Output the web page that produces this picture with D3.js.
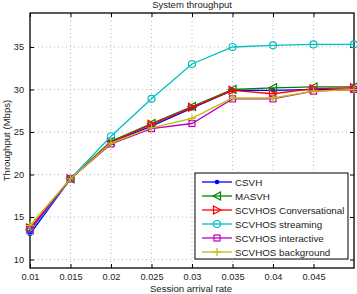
<!DOCTYPE html>
<html>
<head>
<meta charset="utf-8">
<script src="https://cdn.jsdelivr.net/npm/d3@7"></script>
<style>
  body { margin: 0; background: #fff; }
  text { font-family: "Liberation Sans", Arial, sans-serif; }
</style>
</head>
<body>
<div id="chart"></div>
<script>
const arrivalRates = [0.01, 0.015, 0.02, 0.025, 0.03, 0.035, 0.04, 0.045, 0.05];
const xTicks = [0.01, 0.015, 0.02, 0.025, 0.03, 0.035, 0.04, 0.045];
const yTicks = [10, 15, 20, 25, 30, 35];

const csvh = [13.0, 19.5, 23.8, 25.7, 27.8, 29.9, 29.9, 30.0, 30.0];
const masvh = [13.5, 19.5, 23.9, 26.0, 28.0, 30.0, 30.2, 30.3, 30.3];
const conversational = [13.7, 19.5, 23.8, 25.9, 27.9, 29.9, 29.5, 30.1, 30.2];
const streaming = [13.3, 19.5, 24.5, 28.9, 33.0, 35.0, 35.2, 35.3, 35.3];
const interactive = [13.5, 19.5, 23.6, 25.4, 26.0, 28.9, 28.9, 29.8, 30.0];
const background = [14.0, 19.5, 23.7, 25.5, 26.6, 29.0, 29.0, 29.8, 30.0];

const seriesNames = ['CSVH', 'MASVH', 'SCVHOS Conversational', 'SCVHOS streaming', 'SCVHOS interactive', 'SCVHOS background'];
const seriesValues = [csvh, masvh, conversational, streaming, interactive, background];
const seriesColors = ['#0000ff', '#008000', '#ff0000', '#00bfbf', '#bf00bf', '#bfbf00'];
const seriesMarkers = ['dot', 'tleft', 'tright', 'circle', 'square', 'plus'];

const W = 357, H = 294;
const margin = { top: 13, right: 3, bottom: 26, left: 30 };
const width = W - margin.left - margin.right;
const height = H - margin.top - margin.bottom;

const svg = d3.select('#chart').append('svg')
  .attr('width', W).attr('height', H);
const g = svg.append('g')
  .attr('transform', 'translate(' + margin.left + ',' + margin.top + ')');

const x = d3.scaleLinear().domain([0.01, 0.05]).range([0, width]);
const y = d3.scaleLinear().domain([9, 39]).range([height, 0]);

// grid
g.append('g').selectAll('line').data(xTicks.slice(1)).join('line')
  .attr('x1', d => x(d)).attr('x2', d => x(d))
  .attr('y1', 0).attr('y2', height)
  .attr('stroke', '#999').attr('stroke-width', 0.7).attr('stroke-dasharray', '1,3');
g.append('g').selectAll('line').data(yTicks).join('line')
  .attr('x1', 0).attr('x2', width)
  .attr('y1', d => y(d)).attr('y2', d => y(d))
  .attr('stroke', '#999').attr('stroke-width', 0.7).attr('stroke-dasharray', '1,3');

// axes with inward ticks
const xAxis = g.append('g').attr('transform', 'translate(0,' + height + ')')
  .call(d3.axisBottom(x).tickValues(xTicks).tickSize(-4).tickPadding(5).tickFormat(d3.format('')));
const xAxisTop = g.append('g')
  .call(d3.axisTop(x).tickValues(xTicks).tickSize(-4).tickFormat(''));
const yAxis = g.append('g')
  .call(d3.axisLeft(y).tickValues(yTicks).tickSize(-4).tickPadding(6));
const yAxisRight = g.append('g').attr('transform', 'translate(' + width + ',0)')
  .call(d3.axisRight(y).tickValues(yTicks).tickSize(-4).tickFormat(''));
[xAxis, xAxisTop, yAxis, yAxisRight].forEach(a => {
  a.select('.domain').remove();
  a.selectAll('text').attr('font-size', 9.2).attr('fill', '#222')
    .attr('font-family', '"Liberation Sans", Arial, sans-serif');
  a.selectAll('line').attr('stroke', '#000');
});

g.append('rect').attr('width', width).attr('height', height)
  .attr('fill', 'none').attr('stroke', '#000').attr('stroke-width', 1.3);

// lines + markers
const line = d3.line().x((d, i) => x(arrivalRates[i])).y(d => y(d));

function drawMarker(sel, type, color, cx, cy) {
  if (type === 'dot') {
    sel.append('circle').attr('cx', cx).attr('cy', cy).attr('r', 2.3).attr('fill', color);
  } else if (type === 'circle') {
    sel.append('circle').attr('cx', cx).attr('cy', cy).attr('r', 3.5)
      .attr('fill', 'none').attr('stroke', color).attr('stroke-width', 1.2);
  } else if (type === 'square') {
    sel.append('rect').attr('x', cx - 3).attr('y', cy - 3).attr('width', 6).attr('height', 6)
      .attr('fill', 'none').attr('stroke', color).attr('stroke-width', 1.2);
  } else if (type === 'tleft') {
    sel.append('path').attr('d', `M${cx - 4},${cy}L${cx + 3.5},${cy - 4}L${cx + 3.5},${cy + 4}Z`)
      .attr('fill', 'none').attr('stroke', color).attr('stroke-width', 1.2);
  } else if (type === 'tright') {
    sel.append('path').attr('d', `M${cx + 4},${cy}L${cx - 3.5},${cy - 4}L${cx - 3.5},${cy + 4}Z`)
      .attr('fill', 'none').attr('stroke', color).attr('stroke-width', 1.2);
  } else if (type === 'plus') {
    sel.append('path').attr('d', `M${cx - 4},${cy}H${cx + 4}M${cx},${cy - 4}V${cy + 4}`)
      .attr('stroke', color).attr('stroke-width', 1.2);
  }
}

const plot = g.append('g');
seriesValues.forEach((vals, s) => {
  plot.append('path').datum(vals).attr('d', line)
    .attr('fill', 'none').attr('stroke', seriesColors[s]).attr('stroke-width', 1.3);
  const mg = plot.append('g');
  vals.forEach((v, i) => drawMarker(mg, seriesMarkers[s], seriesColors[s], x(arrivalRates[i]), y(v)));
});

// title and labels
svg.append('text').attr('x', margin.left + width / 2).attr('y', 8)
  .attr('text-anchor', 'middle').attr('font-size', 9.5).attr('fill', '#222')
  .text('System throughput');
svg.append('text').attr('x', margin.left + width / 2 - 1).attr('y', 292)
  .attr('text-anchor', 'middle').attr('font-size', 9.6).attr('fill', '#222')
  .text('Session arrival rate');
svg.append('text')
  .attr('transform', 'translate(10,' + (margin.top + height / 2) + ') rotate(-90)')
  .attr('text-anchor', 'middle').attr('font-size', 9.6).attr('fill', '#222')
  .text('Throughput (Mbps)');

// legend
const lg = svg.append('g').attr('transform', 'translate(195,173)');
lg.append('rect').attr('width', 153).attr('height', 86)
  .attr('fill', '#fff').attr('stroke', '#000').attr('stroke-width', 1);
seriesNames.forEach((name, i) => {
  const ly = 9 + i * 14;
  lg.append('line').attr('x1', 7).attr('x2', 37).attr('y1', ly).attr('y2', ly)
    .attr('stroke', seriesColors[i]).attr('stroke-width', 1.3);
  drawMarker(lg, seriesMarkers[i], seriesColors[i], 22, ly);
  lg.append('text').attr('x', 40).attr('y', ly + 3.5)
    .attr('font-size', 9.8).attr('fill', '#222').text(name);
});
</script>
</body>
</html>
